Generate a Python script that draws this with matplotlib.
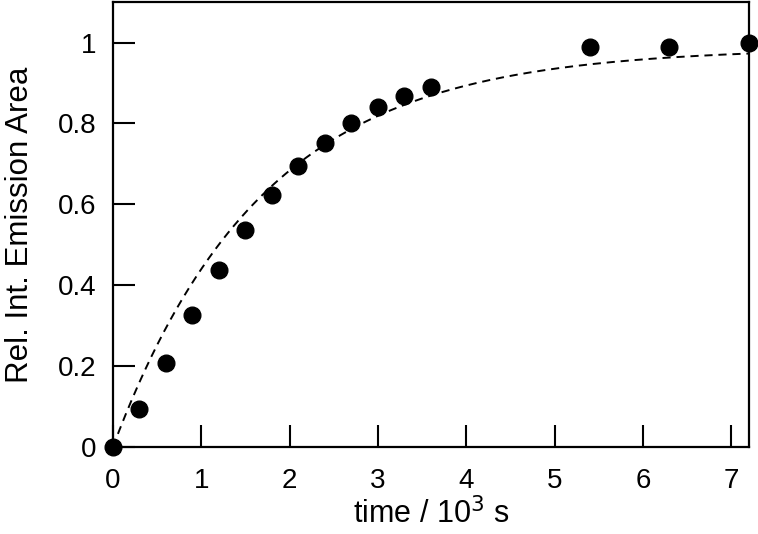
import numpy as np
import matplotlib
matplotlib.use("Agg")
import matplotlib.pyplot as plt

plt.rcParams['font.family'] = ['Liberation Sans', 'DejaVu Sans']

time = [0, 0.3, 0.6, 0.9, 1.2, 1.5, 1.8, 2.1, 2.4, 2.7, 3.0, 3.3, 3.6, 5.4, 6.3, 7.2]
area = [0, 0.094, 0.207, 0.326, 0.437, 0.536, 0.622, 0.694, 0.751, 0.800, 0.840, 0.869, 0.891, 0.988, 0.988, 1.0]
fit_A = 0.987
fit_k = 0.59

fig = plt.figure(figsize=(7.58, 5.34), dpi=100)
ax = fig.add_axes([0.149, 0.163, 0.839, 0.833])

tf = np.linspace(0, 7.2, 300)
ax.plot(tf, fit_A * (1 - np.exp(-fit_k * tf)), ls=(0, (4.2, 3)), color='black', lw=1.4)
ax.plot(time, area, 'o', color='black', ms=12, clip_on=False, zorder=3)

ax.set_xlim(0, 7.2)
ax.set_ylim(0, 1.1)
ax.set_xticks(range(0, 8))
ax.set_yticks([0, 0.2, 0.4, 0.6, 0.8, 1.0])
ax.set_yticklabels(['0', '0.2', '0.4', '0.6', '0.8', '1'])
ax.tick_params(direction='in', length=16, width=1.5, labelsize=20)
ax.tick_params(axis='x', pad=15)
ax.tick_params(axis='y', pad=12)
for s in ax.spines.values():
    s.set_linewidth(1.6)
ax.set_xlabel('time / 10$^3$ s', fontsize=22, labelpad=3)
ax.set_ylabel('Rel. Int. Emission Area', fontsize=22.5, labelpad=16)

fig.savefig('out.png', dpi=100)
